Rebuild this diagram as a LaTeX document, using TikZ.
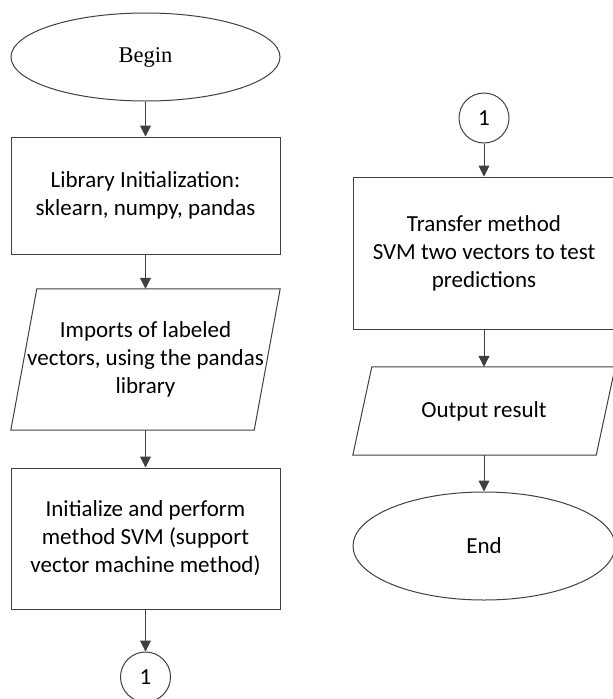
\documentclass[tikz,border=0pt]{standalone}
\usepackage{fontspec}
\setmainfont{Carlito}
\newfontfamily\timesfont{Liberation Serif}
\usetikzlibrary{shapes.geometric,arrows.meta}

\begin{document}
\begin{tikzpicture}[x=1pt,y=-1pt,font=\fontsize{23}{28}\selectfont,
  term/.style={ellipse,draw=black!75,line width=1pt,inner sep=0pt},
  proc/.style={rectangle,draw=black!75,line width=1pt,align=center,inner sep=0pt},
  io/.style={rectangle,align=center,inner sep=0pt},
  conn/.style={circle,draw=black!75,line width=1pt,minimum size=50pt,inner sep=0pt},
  flow/.style={-{Triangle[length=11pt,width=11pt]},draw=black!75,line width=1pt}]
\useasboundingbox (0,0) rectangle (613,699);

% left column
\node [term,minimum width=269pt,minimum height=88pt] (start) at (145.5,57) {\timesfont\fontsize{22.5}{27}\selectfont Begin};
\node [proc,minimum width=269pt,minimum height=117pt] (lib) at (145.5,195.5) {Library Initialization:\\ sklearn, numpy, pandas};
\node [io,minimum width=269pt,minimum height=141pt] (imp) at (145.5,359.5) {Imports of labeled\\ vectors, using the pandas\\ library};
\draw [draw=black!75,line width=1pt] ([xshift=26pt]imp.north west) -- (imp.north east) -- ([xshift=-26pt]imp.south east) -- (imp.south west) -- cycle;
\node [proc,minimum width=269pt,minimum height=141pt] (svm) at (145.5,538.5) {Initialize and perform\\ method SVM (support\\ vector machine method)};
\node [conn] (conA) at (145.5,677) {1};

\draw [flow] (start) -- (lib); \draw [flow] (lib) -- (imp.north);
\draw [flow] (imp.south) -- (svm); \draw [flow] (svm) -- (conA);

% right column
\node [conn] (conB) at (484,118) {1};
\node [proc,minimum width=261pt,minimum height=152pt] (trans) at (484,253) {Transfer method\\ SVM two vectors to test\\ predictions};
\node [io,minimum width=262pt,minimum height=88pt] (outp) at (484,411) {Output result};
\draw [draw=black!75,line width=1pt] ([xshift=19pt]outp.north west) -- (outp.north east) -- ([xshift=-19pt]outp.south east) -- (outp.south west) -- cycle;
\node [term,minimum width=262pt,minimum height=108pt] (stop) at (484,546) {End};

\draw [flow] (conB) -- (trans); \draw [flow] (trans) -- (outp.north);
\draw [flow] (outp.south) -- (stop);

\end{tikzpicture}
\end{document}
